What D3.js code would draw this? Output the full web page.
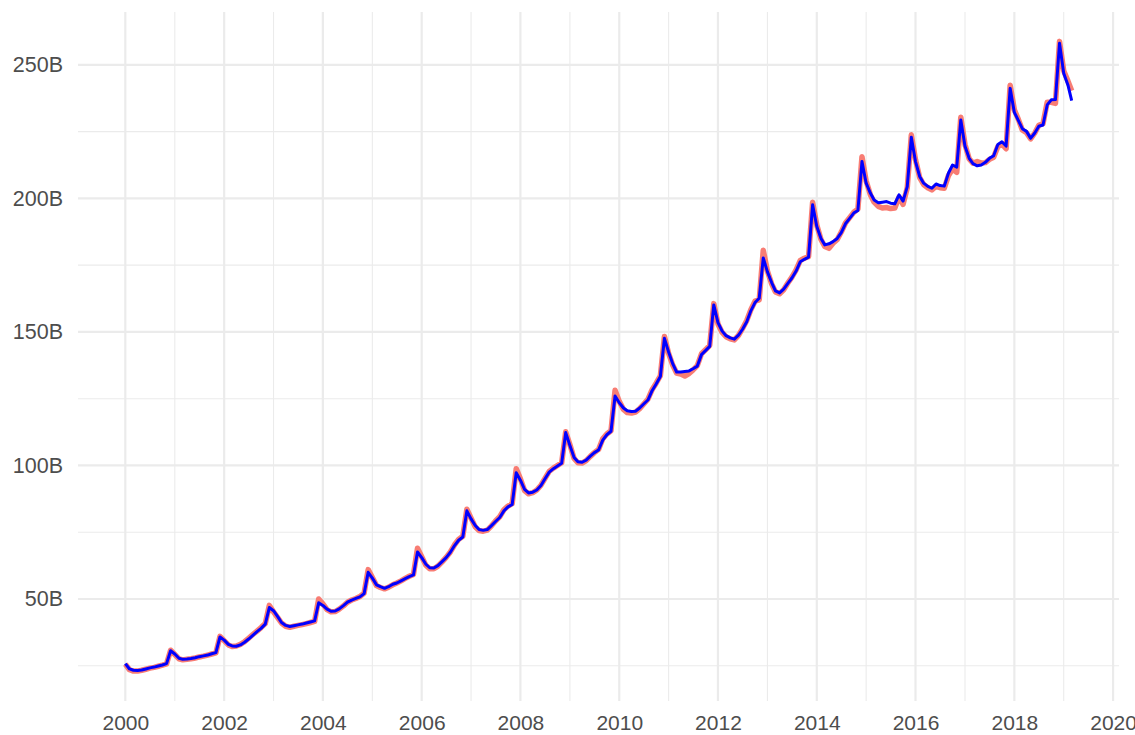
<!DOCTYPE html>
<html>
<head>
<meta charset="utf-8">
<script src="https://cdn.jsdelivr.net/npm/d3@7"></script>
<style>
  body { margin: 0; background: #ffffff; }
  svg { display: block; }
</style>
</head>
<body>
<svg id="chart" width="1135" height="735"></svg>
<script>
// ---- Data (monthly, Jan 2000 .. Mar 2019), values in billions ----
const startYear = 2000;
const actual = [
  25.6, 23.5, 23.0, 23.0, 23.3, 23.7, 24.1, 24.4, 24.8, 25.2, 25.7, 30.8,
  29.2, 27.6, 27.2, 27.4, 27.6, 27.9, 28.3, 28.6, 29.0, 29.4, 29.8, 36.0,
  34.4, 32.8, 32.2, 32.4, 33.0, 34.0, 35.3, 36.7, 38.0, 39.3, 40.8, 47.6,
  45.2, 43.0, 41.0, 39.8, 39.4, 39.8, 40.1, 40.4, 40.8, 41.2, 41.6, 50.0,
  48.2, 46.0, 45.2, 45.3, 46.2, 47.4, 48.8, 49.6, 50.2, 50.9, 52.2, 61.0,
  58.0, 55.0, 54.3, 53.8, 54.4, 55.3, 56.0, 56.8, 57.7, 58.5, 59.2, 69.0,
  65.8, 62.6, 61.3, 61.3, 62.3, 63.9, 65.6, 67.6, 70.3, 72.3, 73.5, 83.6,
  80.3, 77.0, 75.6, 75.4, 75.8, 77.4, 79.2, 80.8, 83.4, 84.8, 85.7, 98.8,
  95.0, 90.6, 89.4, 89.8, 90.8, 92.6, 95.2, 97.8, 99.0, 100.0, 101.0, 112.6,
  107.8, 102.6, 101.0, 100.9, 101.8, 103.4, 104.8, 106.0, 110.0, 111.8, 113.0, 128.2,
  124.0, 121.0, 119.8, 119.6, 120.0, 121.3, 123.0, 124.8, 128.4, 130.8, 133.6, 148.3,
  142.0, 137.5, 134.6, 134.2, 133.5, 134.4, 135.8, 137.4, 141.8, 143.3, 145.0, 160.6,
  153.0, 149.8, 148.2, 147.4, 147.0, 148.7, 151.3, 154.3, 158.4, 161.5, 162.0, 180.6,
  172.8, 168.0, 165.0, 164.3, 165.8, 168.3, 170.5, 173.2, 176.8, 177.6, 178.2, 198.6,
  190.0, 184.6, 182.0, 181.3, 183.2, 184.6, 187.4, 190.8, 192.8, 194.8, 196.0, 215.6,
  206.5, 201.4, 198.6, 197.0, 196.4, 196.6, 196.2, 196.4, 200.5, 197.8, 204.0, 223.8,
  214.5, 207.8, 205.2, 204.0, 203.2, 204.6, 204.0, 203.8, 208.6, 211.0, 209.8, 230.4,
  220.2, 214.8, 213.2, 213.8, 213.2, 213.4, 214.6, 215.4, 219.4, 220.4, 218.6, 242.4,
  233.2, 229.4, 225.6, 224.6, 222.3, 224.5, 227.4, 228.0, 236.0, 236.0, 235.6, 258.8,
  247.8, 244.0, 240.3
];
const fitted = [
  25.8, 23.8, 23.3, 23.2, 23.4, 23.8, 24.2, 24.5, 24.9, 25.3, 25.8, 30.6,
  29.4, 27.8, 27.4, 27.5, 27.7, 28.0, 28.4, 28.7, 29.0, 29.5, 29.9, 35.8,
  34.6, 33.0, 32.4, 32.3, 32.8, 33.8, 35.0, 36.4, 37.8, 39.0, 40.6, 46.8,
  45.6, 43.4, 41.2, 40.1, 39.7, 40.0, 40.3, 40.6, 41.0, 41.4, 41.8, 48.6,
  47.6, 46.2, 45.4, 45.5, 46.3, 47.5, 48.8, 49.6, 50.2, 50.8, 52.0, 60.0,
  57.8, 55.3, 54.6, 54.0, 54.6, 55.5, 56.0, 56.8, 57.6, 58.4, 59.0, 67.6,
  65.5, 63.0, 61.7, 61.6, 62.5, 64.0, 65.5, 67.5, 70.0, 72.0, 73.2, 83.0,
  80.0, 77.5, 76.0, 75.7, 76.0, 77.5, 79.0, 80.5, 83.0, 84.5, 85.4, 97.3,
  94.5, 91.0, 89.7, 90.0, 90.8, 92.5, 95.0, 97.5, 98.8, 99.8, 100.8, 112.3,
  107.5, 103.0, 101.4, 101.2, 102.0, 103.5, 104.8, 105.8, 109.5, 111.5, 112.8, 126.0,
  123.5, 121.5, 120.5, 120.2, 120.3, 121.5, 123.0, 124.5, 128.0, 130.5, 133.3, 147.6,
  142.5, 138.0, 135.0, 135.0, 135.2, 135.4, 136.2, 137.2, 141.5, 143.0, 144.6, 160.1,
  153.5, 150.3, 148.6, 147.8, 147.3, 148.8, 151.0, 153.8, 158.0, 161.0, 162.6, 177.7,
  172.5, 168.5, 165.4, 164.6, 166.0, 168.2, 170.2, 172.8, 176.3, 177.2, 178.0, 197.6,
  189.5, 185.0, 182.6, 183.0, 183.8, 185.0, 187.2, 190.5, 192.5, 194.5, 195.5, 213.8,
  205.7, 202.0, 199.4, 198.4, 198.6, 198.8, 198.2, 198.0, 201.3, 199.0, 204.4, 222.9,
  213.8, 208.2, 205.7, 204.5, 203.8, 205.4, 204.8, 204.6, 209.5, 212.5, 211.7, 229.4,
  219.5, 215.0, 213.0, 212.2, 212.5, 213.5, 215.0, 216.0, 220.2, 221.2, 219.6, 241.2,
  232.2, 229.0, 226.1, 225.1, 222.5, 224.5, 227.0, 227.5, 235.0, 236.9, 237.0, 258.1,
  246.9, 242.5, 236.6
];
const xMajorTicks = [2000, 2002, 2004, 2006, 2008, 2010, 2012, 2014, 2016, 2018, 2020];
const xMinorTicks = [2001, 2003, 2005, 2007, 2009, 2011, 2013, 2015, 2017, 2019];
const yMajorTicks = [50, 100, 150, 200, 250];
const yMinorTicks = [25, 75, 125, 175, 225];

// ---- Layout ----
const panel = { left: 78, right: 1119, top: 12, bottom: 701 };
const svg = d3.select("#chart");

const dates = actual.map((_, i) => new Date(startYear + Math.floor(i / 12), i % 12, 1));
const dMin = dates[0], dMax = dates[dates.length - 1];
const span = dMax - dMin;
const x = d3.scaleTime()
  .domain([new Date(+dMin - span * 0.05), new Date(+dMax + span * 0.05)])
  .range([panel.left, panel.right]);
const y = d3.scaleLinear().domain([11.8, 269.8]).range([panel.bottom, panel.top]);

const yr = v => new Date(v, 0, 1);

// Grid
const grid = svg.append("g");
grid.selectAll(".yminor").data(yMinorTicks).join("line")
  .attr("x1", panel.left).attr("x2", panel.right)
  .attr("y1", d => y(d)).attr("y2", d => y(d))
  .attr("stroke", "#EBEBEB").attr("stroke-width", 1.1);
grid.selectAll(".xminor").data(xMinorTicks).join("line")
  .attr("y1", panel.top).attr("y2", panel.bottom)
  .attr("x1", d => x(yr(d))).attr("x2", d => x(yr(d)))
  .attr("stroke", "#EBEBEB").attr("stroke-width", 1.1);
grid.selectAll(".ymajor").data(yMajorTicks).join("line")
  .attr("x1", panel.left).attr("x2", panel.right)
  .attr("y1", d => y(d)).attr("y2", d => y(d))
  .attr("stroke", "#EBEBEB").attr("stroke-width", 2.2);
grid.selectAll(".xmajor").data(xMajorTicks).join("line")
  .attr("y1", panel.top).attr("y2", panel.bottom)
  .attr("x1", d => x(yr(d))).attr("x2", d => x(yr(d)))
  .attr("stroke", "#EBEBEB").attr("stroke-width", 2.2);

// Axes (text only, like theme_minimal)
const fontFam = "'Liberation Sans', Arial, sans-serif";
const xAxis = d3.axisBottom(x)
  .tickValues(xMajorTicks.map(yr))
  .tickFormat(d3.timeFormat("%Y"))
  .tickSize(0).tickPadding(14);
const gx = svg.append("g").attr("transform", `translate(0,${panel.bottom})`).call(xAxis);
gx.select(".domain").remove();
gx.selectAll("text").attr("fill", "#4D4D4D").style("font-family", fontFam).style("font-size", "21px");

const yAxis = d3.axisLeft(y)
  .tickValues(yMajorTicks)
  .tickFormat(d => d + "B")
  .tickSize(0).tickPadding(15);
const gy = svg.append("g").attr("transform", `translate(${panel.left},0)`).call(yAxis);
gy.select(".domain").remove();
gy.selectAll("text").attr("fill", "#4D4D4D").style("font-family", fontFam).style("font-size", "21.5px");

// Lines
const line = d3.line().x((d, i) => x(dates[i])).y(d => y(d));
svg.append("path").datum(actual)
  .attr("fill", "none").attr("stroke", "#F8766D").attr("stroke-opacity", 0.95)
  .attr("stroke-width", 5.5).attr("stroke-linejoin", "round").attr("stroke-linecap", "butt")
  .attr("d", line);
svg.append("path").datum(fitted)
  .attr("fill", "none").attr("stroke", "#0000FF")
  .attr("stroke-width", 3).attr("stroke-linejoin", "round").attr("stroke-linecap", "butt")
  .attr("d", line);
</script>
</body>
</html>
